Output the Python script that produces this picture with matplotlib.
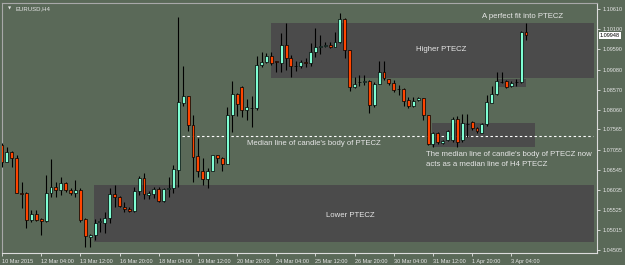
import numpy as np
import matplotlib
matplotlib.use('Agg')
import matplotlib.pyplot as plt
from matplotlib.patches import Rectangle

plt.rcParams['font.family'] = ['Liberation Sans', 'DejaVu Sans']

# EURUSD H4 candles
opens = [1.07171, 1.06741, 1.06994, 1.06842, 1.05957, 1.05957, 1.05274, 1.05426, 1.05299, 1.05249,
         1.05957, 1.06108, 1.06032, 1.06210, 1.06032, 1.05957, 1.06032, 1.05299, 1.04844, 1.04894,
         1.05223, 1.05198, 1.05324, 1.05931, 1.05855, 1.05603, 1.05552, 1.05501, 1.06007, 1.06336,
         1.05906, 1.05931, 1.06058, 1.05754, 1.06058, 1.06083, 1.06538, 1.08233, 1.08410, 1.07676,
         1.06892, 1.06513, 1.06311, 1.06513, 1.06918, 1.06842, 1.06690, 1.07929, 1.08460, 1.08637,
         1.08056, 1.08106, 1.08106, 1.09194, 1.09270, 1.09421, 1.09295, 1.09244, 1.09700, 1.09371,
         1.09168, 1.09168, 1.09270, 1.09244, 1.09523, 1.09649, 1.09674, 1.09700, 1.09649, 1.09775,
         1.10357, 1.09573, 1.08637, 1.08764, 1.08764, 1.08789, 1.08182, 1.08713, 1.09017, 1.08840,
         1.08739, 1.08587, 1.08587, 1.08309, 1.08157, 1.08309, 1.08359, 1.07929, 1.07196, 1.07474,
         1.07221, 1.07297, 1.07297, 1.07828, 1.07297, 1.07702, 1.07752, 1.07600, 1.07474, 1.07702,
         1.08233, 1.08460, 1.08764, 1.08789, 1.08663, 1.08764, 1.08764, 1.10028]
closes = [1.06741, 1.06994, 1.06842, 1.05957, 1.05931, 1.05274, 1.05426, 1.05274, 1.05249, 1.05957,
          1.06108, 1.06032, 1.06210, 1.06032, 1.05957, 1.06032, 1.05274, 1.04869, 1.04894, 1.05198,
          1.05249, 1.05324, 1.05931, 1.05855, 1.05628, 1.05552, 1.05501, 1.06007, 1.06336, 1.05931,
          1.05957, 1.06058, 1.05754, 1.06058, 1.06083, 1.06564, 1.08258, 1.08410, 1.07676, 1.06867,
          1.06513, 1.06311, 1.06513, 1.06918, 1.06842, 1.06690, 1.07929, 1.08460, 1.08207, 1.08056,
          1.08132, 1.08106, 1.09194, 1.09270, 1.09421, 1.09244, 1.09270, 1.09700, 1.09371, 1.09168,
          1.09168, 1.09270, 1.09244, 1.09523, 1.09649, 1.09674, 1.09700, 1.09649, 1.09775, 1.10357,
          1.09573, 1.08637, 1.08713, 1.08764, 1.08789, 1.08182, 1.08713, 1.09017, 1.08865, 1.08739,
          1.08562, 1.08587, 1.08283, 1.08157, 1.08283, 1.08359, 1.07929, 1.07196, 1.07474, 1.07246,
          1.07272, 1.07525, 1.07828, 1.07246, 1.07727, 1.07702, 1.07600, 1.07525, 1.07702, 1.08258,
          1.08460, 1.08789, 1.08764, 1.08637, 1.08739, 1.08764, 1.10028, 1.09948]
highs = [1.07221, 1.07120, 1.07019, 1.06918, 1.06235, 1.05982, 1.05527, 1.05527, 1.05324, 1.06412,
         1.06816, 1.06235, 1.06361, 1.06235, 1.06083, 1.06285, 1.06083, 1.05324, 1.04920, 1.05299,
         1.05324, 1.05476, 1.06083, 1.06159, 1.05881, 1.05729, 1.05603, 1.06108, 1.06387, 1.06462,
         1.06007, 1.06108, 1.06108, 1.06083, 1.06361, 1.06665, 1.10408, 1.09168, 1.08410, 1.07929,
         1.07348, 1.06842, 1.06589, 1.06918, 1.06918, 1.06867, 1.08132, 1.08789, 1.08486, 1.08663,
         1.08334, 1.08410, 1.09421, 1.09523, 1.09497, 1.09523, 1.09295, 1.10003, 1.10256, 1.09447,
         1.09295, 1.09320, 1.09371, 1.09750, 1.10130, 1.09952, 1.09775, 1.09775, 1.10028, 1.10509,
         1.10382, 1.09573, 1.08890, 1.08941, 1.08941, 1.08814, 1.08764, 1.09295, 1.09295, 1.08840,
         1.08814, 1.08688, 1.08612, 1.08384, 1.08384, 1.08384, 1.08359, 1.07929, 1.07499, 1.07499,
         1.07297, 1.07550, 1.07879, 1.07904, 1.07955, 1.07955, 1.07778, 1.07626, 1.07727, 1.08435,
         1.08663, 1.09017, 1.09017, 1.08814, 1.08789, 1.08840, 1.10054, 1.10256]
lows = [1.06614, 1.06741, 1.06614, 1.05957, 1.05577, 1.05072, 1.05223, 1.05249, 1.04894, 1.05223,
        1.05855, 1.05855, 1.05906, 1.05982, 1.05906, 1.05855, 1.05223, 1.04591, 1.04591, 1.04768,
        1.04970, 1.04945, 1.05198, 1.05603, 1.05603, 1.05476, 1.05476, 1.05476, 1.05906, 1.05805,
        1.05805, 1.05830, 1.05729, 1.05729, 1.05855, 1.05957, 1.06108, 1.08157, 1.07525, 1.06235,
        1.06361, 1.06159, 1.06083, 1.06513, 1.06715, 1.06513, 1.06690, 1.07499, 1.07904, 1.07879,
        1.07803, 1.07626, 1.08056, 1.09143, 1.09244, 1.09194, 1.09017, 1.09017, 1.09067, 1.08890,
        1.09042, 1.09118, 1.09143, 1.09168, 1.09396, 1.09472, 1.09649, 1.09624, 1.09649, 1.09750,
        1.09371, 1.08536, 1.08612, 1.08663, 1.08688, 1.07980, 1.08132, 1.08713, 1.08814, 1.08688,
        1.08511, 1.08435, 1.08157, 1.08106, 1.08132, 1.08283, 1.07803, 1.07171, 1.07120, 1.07196,
        1.07196, 1.07272, 1.07246, 1.07120, 1.07246, 1.07373, 1.07550, 1.07474, 1.07474, 1.07651,
        1.08233, 1.08435, 1.08739, 1.08612, 1.08637, 1.08663, 1.08739, 1.09826]

date_labels = ['10 Mar 2015', '12 Mar 04:00', '13 Mar 12:00', '16 Mar 20:00', '18 Mar 04:00',
               '19 Mar 12:00', '20 Mar 20:00', '24 Mar 04:00', '25 Mar 12:00', '26 Mar 20:00',
               '30 Mar 04:00', '31 Mar 12:00', '1 Apr 20:00', '3 Apr 04:00']
price_ticks = [1.10610, 1.10100, 1.09590, 1.09080, 1.08570, 1.08060, 1.07565,
               1.07055, 1.06545, 1.06035, 1.05525, 1.05015, 1.04505]
last_price = 1.09948

# zones: (start bar, end bar, low price, high price)
zone_names = ['Higher PTECZ', 'Lower PTECZ', 'median', 'small']
zone_x0 = [55.0, 18.8, 87.8, 101.3]
zone_x1 = [120.9, 120.9, 108.8, 107.0]
zone_lo = [1.08865, 1.04717, 1.07120, 1.08637]
zone_hi = [1.10256, 1.06159, 1.07727, 1.08840]
median_price = 1.07398
median_x = [36.8, 120.7]

bg = '#5a6958'
zone_col = '#4b4b4b'
up_col = '#7fffd4'
dn_col = '#ff4500'
txt_col = '#e6e6e6'
fs = 5.6

fig = plt.figure(figsize=(6.25, 2.65), dpi=100, facecolor=bg)
ax = fig.add_axes([2/625, 12/265, 595/625, 250/265])
ax.set_facecolor(bg)

for x0, x1, lo, hi in zip(zone_x0, zone_x1, zone_lo, zone_hi):
    ax.add_patch(Rectangle((x0, lo), x1 - x0, hi - lo, facecolor=zone_col, edgecolor='none', zorder=1))

ax.plot(median_x, [median_price, median_price], color='white', lw=0.8, ls=(0, (2.2, 2.2)), zorder=2)

o = np.array(opens)
c = np.array(closes)
idx = np.arange(len(o))
ax.vlines(idx, lows, highs, color='black', lw=0.8, zorder=3)
cols = np.where(c >= o, up_col, dn_col)
ax.bar(idx, np.abs(c - o), bottom=np.minimum(o, c), width=0.6, color=cols,
       edgecolor='black', linewidth=0.5, zorder=4)

ax.set_xlim(0.06, 121.5)
ax.set_ylim(1.04439, 1.10762)

# right price axis
ax.yaxis.tick_right()
ax.set_yticks(price_ticks)
ax.set_yticklabels(['%.5f' % v for v in price_ticks], fontsize=4, color=txt_col)
ax.tick_params(axis='y', direction='out', length=2.5, width=0.6, color=txt_col, pad=1.5)

ax.set_xticks(np.arange(0, 8 * len(date_labels), 8))
ax.set_xticklabels(date_labels, fontsize=4, color=txt_col, ha='left')
ax.tick_params(axis='x', direction='out', length=2.5, width=0.6, color=txt_col, pad=1.5)

for s in ['left', 'top']:
    ax.spines[s].set_color('#a8a8a8')
for s in ['right', 'bottom']:
    ax.spines[s].set_color('#dcdcdc')
for s in ax.spines.values():
    s.set_linewidth(0.8)

# current price label
ax.annotate('%.5f' % last_price, xy=(1, last_price), xycoords=('axes fraction', 'data'),
            xytext=(2, 0), textcoords='offset points', fontsize=4, color='black', va='center', ha='left',
            bbox=dict(boxstyle='square,pad=0.15', facecolor='white', edgecolor='none'),
            annotation_clip=False)

# text notes
ax.text(0.013, 0.976, '\u25bc', transform=ax.transAxes, fontsize=3, color=txt_col,
        va='center', ha='center', family='DejaVu Sans')
ax.text(0.022, 0.976, 'EURUSD,H4', transform=ax.transAxes, fontsize=4.3, color=txt_col,
        va='center', ha='left')
ax.text(106.4, 1.10420, 'A perfect fit into PTECZ', fontsize=fs, color=txt_col, ha='center', va='center')
ax.text(89.7, 1.09598, zone_names[0], fontsize=fs, color=txt_col, ha='center', va='center')
ax.text(50.1, 1.07208, "Median line of candle's body of PTECZ", fontsize=fs, color=txt_col,
        ha='left', va='center')
ax.text(86.6, 1.06918, "The median line of candle's body of PTECZ now", fontsize=fs, color=txt_col,
        ha='left', va='center')
ax.text(86.6, 1.06665, 'acts as a median line of H4 PTECZ', fontsize=fs, color=txt_col,
        ha='left', va='center')
ax.text(71.1, 1.05375, zone_names[1], fontsize=fs, color=txt_col, ha='center', va='center')

fig.savefig('out.png', dpi=100, facecolor=bg)
